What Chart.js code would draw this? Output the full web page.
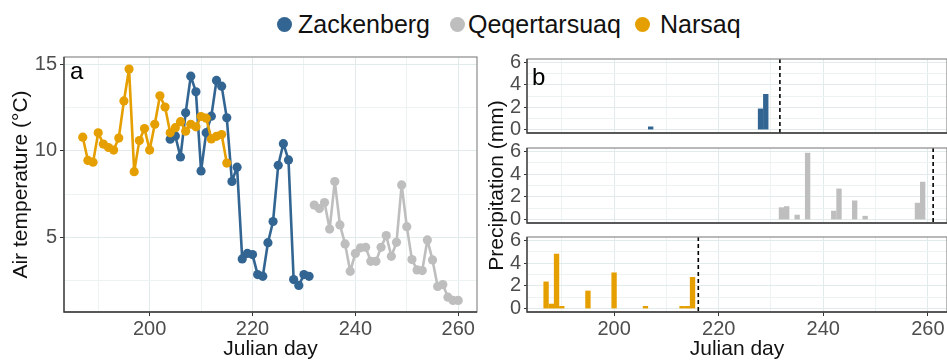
<!DOCTYPE html>
<html><head><meta charset="utf-8">
<script src="https://cdn.jsdelivr.net/npm/chart.js@4.4.1/dist/chart.umd.min.js"></script>
<style>
html,body{margin:0;padding:0;background:#fff;overflow:hidden;width:947px;height:360px;position:relative;}
canvas{position:absolute;left:0;top:0;}
.lg-dot{position:absolute;width:15px;height:15px;border-radius:50%;top:16.5px;}
.lg-txt{position:absolute;top:12px;font-family:'Liberation Sans',Arial,sans-serif;font-size:25px;line-height:25px;color:#111;white-space:nowrap;}
</style></head><body>
<div id="legend"></div>
<canvas id="cA" width="950" height="360"></canvas>
<canvas id="cB1" width="950" height="360"></canvas>
<canvas id="cB2" width="950" height="360"></canvas>
<canvas id="cB3" width="950" height="360"></canvas>
<script>
// ---- data ----
const stationNames = ['Zackenberg', 'Qeqertarsuaq', 'Narsaq'];

const narsaqDays = [187,188,189,190,191,192,193,194,195,196,197,198,199,200,201,202,203,204,205,206,207,208,209,210,211,212,213,214,215];
const narsaqTemp = [10.8,9.45,9.35,11.05,10.4,10.2,10.05,10.75,12.9,14.75,8.8,10.6,11.3,10.05,11.55,13.2,12.55,11.05,11.35,11.7,11.15,11.55,11.4,12.0,11.9,10.7,10.85,10.95,9.3];

const zackDays = [204,205,206,207,208,209,210,211,212,213,214,215,216,217,218,219,220,221,222,223,224,225,226,227,228,229,230,231];
const zackTemp = [10.68,10.87,9.65,12.21,14.34,13.43,8.84,11.06,12.02,14.09,13.76,11.92,8.23,9.06,3.74,4.06,3.99,2.83,2.73,4.68,5.91,9.17,10.42,9.48,2.54,2.2,2.83,2.73];

const qeqDays = [232,233,234,235,236,237,238,239,240,241,242,243,244,245,246,247,248,249,250,251,252,253,254,255,256,257,258,259,260];
const qeqTemp = [6.86,6.66,7.01,5.47,8.23,5.71,4.61,3.02,4.06,4.38,4.41,3.6,3.6,4.41,5.09,3.89,4.7,8.03,5.61,3.7,3.1,3.06,4.84,3.68,2.14,2.25,1.52,1.33,1.33];

const zackPrecipDays = [207,228,229];
const zackPrecip = [0.25,1.85,3.15];
const qeqPrecipDays = [232,233,235,237,242,243,246,248,258,259];
const qeqPrecip = [1.05,1.15,0.4,5.85,0.75,2.7,1.65,0.3,1.45,3.3];
const narsaqPrecipDays = [187,188,189,190,195,200,206,213,214,215];
const narsaqPrecip = [2.35,0.4,4.8,0.2,1.55,3.15,0.2,0.2,0.2,2.75];

const zackEndDay = 231.7;
const qeqEndDay = 261;
const narsaqEndDay = 216.1;

const tempTicks = [5,10,15];
const precipTicks = [0,2,4,6];
const dayTicks = [200,220,240,260];

// ---- style ----
const BLUE = '#336592', GREY = '#bebebe', ORANGE = '#e69f00';
const FONT = "'Liberation Sans', Arial, sans-serif";
Chart.defaults.font.family = FONT;
const GRID_MAJOR = '#e2ebeb', GRID_MINOR = '#edf2f2';
const TICK_COL = '#4d4d4d';
const XMIN = 183.35, XMAX = 263.65;

// legend (html)
const legendItems = [
  {name: stationNames[0], color: BLUE, cx: 284, tx: 298},
  {name: stationNames[1], color: GREY, cx: 457, tx: 468},
  {name: stationNames[2], color: ORANGE, cx: 642, tx: 660}
];
const lg = document.getElementById('legend');
legendItems.forEach(it => {
  const d = document.createElement('div'); d.className = 'lg-dot';
  d.style.left = (it.cx - 7.5) + 'px'; d.style.background = it.color; lg.appendChild(d);
  const t = document.createElement('div'); t.className = 'lg-txt';
  t.style.left = it.tx + 'px'; t.textContent = it.name; lg.appendChild(t);
});

const panelPlugin = {
  id: 'panel',
  afterDraw(chart, args, opts) {
    const {ctx, chartArea: a} = chart;
    ctx.save();
    if (opts.vline != null) {
      const x = chart.scales.x.getPixelForValue(opts.vline);
      ctx.strokeStyle = '#000'; ctx.lineWidth = 1.6; ctx.setLineDash([4, 3]);
      ctx.beginPath(); ctx.moveTo(x, a.top); ctx.lineTo(x, a.bottom); ctx.stroke();
      ctx.setLineDash([]);
    }
    ctx.strokeStyle = '#8a8a8a'; ctx.lineWidth = 1.2;
    ctx.strokeRect(a.left, a.top, a.right - a.left, a.bottom - a.top);
    ctx.strokeStyle = '#3a3a3a'; ctx.lineWidth = 1.3;
    ctx.beginPath(); ctx.moveTo(a.left, a.top); ctx.lineTo(a.left, a.bottom); ctx.lineTo(a.right, a.bottom); ctx.stroke();
    if (opts.tag) {
      ctx.fillStyle = '#000'; ctx.font = '24px ' + FONT; ctx.textBaseline = 'alphabetic'; ctx.textAlign = 'left';
      ctx.fillText(opts.tag, a.left + opts.tagDx, a.top + opts.tagDy);
    }
    ctx.restore();
  }
};

function xScale(showLabels, height) {
  return {
    type: 'linear', min: XMIN, max: XMAX, offset: false,
    afterFit(s) { s.height = height; },
    border: {display: false},
    grid: {
      offset: false,
      color: c => (c.tick && dayTicks.includes(c.tick.value)) ? GRID_MAJOR : GRID_MINOR,
      lineWidth: 1,
      drawTicks: showLabels, tickLength: 4,
      tickColor: c => (c.tick && dayTicks.includes(c.tick.value)) ? '#333' : 'rgba(0,0,0,0)'
    },
    ticks: {
      display: showLabels, stepSize: 10, autoSkip: false, includeBounds: false, maxRotation: 0,
      color: TICK_COL, font: {size: 20}, padding: 1,
      callback: v => dayTicks.includes(v) ? String(v) : ''
    },
    title: {display: showLabels, text: 'Julian day', color: '#111', font: {size: 21}, padding: {top: 0, bottom: -2}}
  };
}

// ---- panel a ----
const pts = (days, vals) => days.map((d, i) => ({x: d, y: vals[i]}));
const lineDs = (label, days, vals, col) => ({
  label, data: pts(days, vals), borderColor: col, backgroundColor: col,
  borderWidth: 2.6, pointRadius: 4.6, pointBorderWidth: 0, pointHoverRadius: 4.6, tension: 0,
  borderJoinStyle: 'round', borderCapStyle: 'round'
});

new Chart(document.getElementById('cA'), {
  type: 'line',
  data: {datasets: [
    lineDs(stationNames[2], narsaqDays, narsaqTemp, ORANGE),
    lineDs(stationNames[1], qeqDays, qeqTemp, GREY),
    lineDs(stationNames[0], zackDays, zackTemp, BLUE)
  ]},
  options: {
    responsive: false, animation: false, devicePixelRatio: 1,
    layout: {padding: {left: 0, top: 57, right: 950 - 477, bottom: 0}},
    plugins: {legend: {display: false}, tooltip: {enabled: false}, panel: {tag: 'a', tagDx: 6, tagDy: 22}},
    scales: {
      x: xScale(true, 48),
      y: {
        min: 0.66, max: 15.45,
        afterFit(s) { s.width = 64; },
        border: {display: false},
        grid: {
          color: c => (c.tick && tempTicks.includes(c.tick.value)) ? GRID_MAJOR : GRID_MINOR,
          tickLength: 4,
          tickColor: c => (c.tick && tempTicks.includes(c.tick.value)) ? '#333' : 'rgba(0,0,0,0)'
        },
        ticks: {stepSize: 2.5, autoSkip: false, includeBounds: false, color: TICK_COL, font: {size: 20}, padding: 3,
          callback: v => tempTicks.includes(v) ? String(v) : ''},
        title: {display: true, text: 'Air temperature (°C)', color: '#111', font: {size: 21}, padding: {top: 9, bottom: 0}}
      }
    }
  },
  plugins: [panelPlugin]
});

// ---- panel b ----
function barChart(id, days, vals, col, top, bottom, opts) {
  const showX = !!opts.showX;
  const xh = showX ? 360 - bottom : 0;
  return new Chart(document.getElementById(id), {
    type: 'bar',
    data: {datasets: [{label: opts.label, data: pts(days, vals), backgroundColor: col, borderWidth: 0,
      barThickness: 4.7, minBarLength: 0}]},
    options: {
      responsive: false, animation: false, devicePixelRatio: 1,
      layout: {padding: {left: 480, top: top, right: 3, bottom: showX ? 0 : 360 - bottom}},
      plugins: {legend: {display: false}, tooltip: {enabled: false},
        panel: {vline: opts.vline, tag: opts.tag || null, tagDx: 5, tagDy: 26}},
      scales: {
        x: xScale(showX, xh),
        y: {
          min: -0.3, max: 6.3,
          afterFit(s) { s.width = 47; },
          border: {display: false},
          grid: {
            color: c => (c.tick && precipTicks.includes(c.tick.value)) ? GRID_MAJOR : GRID_MINOR,
            tickLength: 3,
            tickColor: c => (c.tick && precipTicks.includes(c.tick.value)) ? '#333' : 'rgba(0,0,0,0)'
          },
          ticks: {stepSize: 1, autoSkip: false, includeBounds: false, color: TICK_COL, font: {size: 20}, padding: 3,
            callback: v => precipTicks.includes(v) ? String(v) : ''},
          title: {display: !!opts.yTitle, text: 'Precipitation (mm)', color: '#111', font: {size: 21}, padding: {top: 5, bottom: 0}}
        }
      }
    },
    plugins: [panelPlugin]
  });
}

barChart('cB1', zackPrecipDays, zackPrecip, BLUE, 59, 133, {label: stationNames[0], vline: zackEndDay, tag: 'b'});
barChart('cB2', qeqPrecipDays, qeqPrecip, GREY, 148, 223, {label: stationNames[1], vline: qeqEndDay, yTitle: true});
barChart('cB3', narsaqPrecipDays, narsaqPrecip, ORANGE, 237, 312, {label: stationNames[2], vline: narsaqEndDay, showX: true});
</script>
</body></html>
